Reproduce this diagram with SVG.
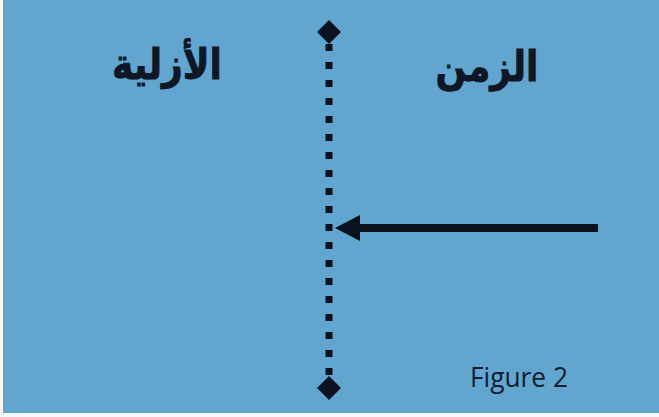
<svg xmlns="http://www.w3.org/2000/svg" width="659" height="417" viewBox="0 0 659 417">
<style>
.ar{font-family:"DejaVu Sans",sans-serif;font-weight:bold;font-size:36px;fill:#0d1726;stroke:#0d1726;stroke-width:0.8}
.fig{font-family:"Open Sans",sans-serif;font-size:28px;fill:#0f1e33}
.ink{fill:#0a1220}
</style>
<rect x="0" y="0" width="659" height="417" fill="#f4f8fb"/>
<rect x="3" y="0" width="656" height="413" fill="#62a6d0"/>
<g id="label-azaliya" transform="translate(0,79) scale(1,1.18) translate(0,-79)"><text class="ar" x="167" y="79" text-anchor="middle" direction="rtl">الأزلية</text></g>
<g id="label-zaman" transform="translate(0,81) scale(1,1.18) translate(0,-81)"><text class="ar" x="487" y="81" text-anchor="middle" direction="rtl">الزمن</text></g>
<g id="timeline">
<line x1="329" y1="44" x2="329" y2="380" stroke="#0a1220" stroke-width="7" stroke-dasharray="7 11"/>
<polygon class="ink" points="329,20 341,32 329,44 317,32"/>
<polygon class="ink" points="329,376 341,388 329,400 317,388"/>
</g>
<g id="connectors">
<line x1="355" y1="228" x2="598" y2="228" stroke="#0a1220" stroke-width="8"/>
<polygon class="ink" points="335,228 360,215 360,241"/>
</g>
<g id="caption"><text class="fig" x="470" y="387" textLength="98" lengthAdjust="spacingAndGlyphs">Figure 2</text></g>
</svg>
